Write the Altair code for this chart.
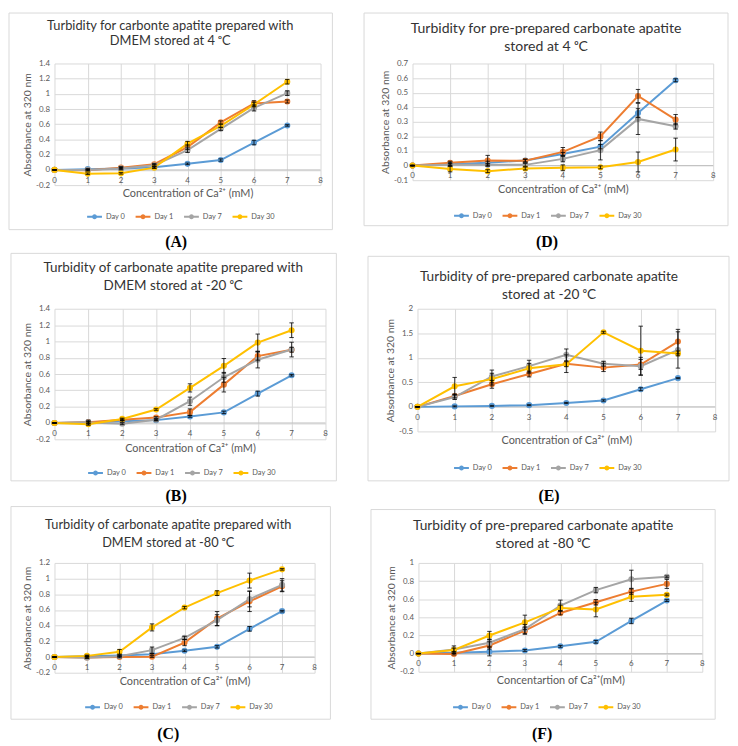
import altair as alt
import pandas as pd

# ---------------- data ----------------
conc = [0, 1, 2, 3, 4, 5, 6, 7]
days = ["Day 0", "Day 1", "Day 7", "Day 30"]
colors = ["#5B9BD5", "#ED7D31", "#A5A5A5", "#FFC000"]
x_ticks = [0, 1, 2, 3, 4, 5, 6, 7, 8]

day0 = [0, 0.01, 0.02, 0.035, 0.08, 0.13, 0.36, 0.585]
day0_err = [0.005, 0.01, 0.01, 0.01, 0.01, 0.015, 0.03, 0.01]
day0_err_f = [0.005, 0.01, 0.045, 0.01, 0.01, 0.015, 0.03, 0.01]

A_d1 = [0, -0.005, 0.03, 0.075, 0.30, 0.625, 0.875, 0.90]
A_d1_err = [0, 0.01, 0.01, 0.01, 0.03, 0.02, 0.035, 0.02]
A_d7 = [0, 0.0, 0.02, 0.06, 0.26, 0.54, 0.815, 1.01]
A_d7_err = [0, 0.01, 0.02, 0.01, 0.03, 0.02, 0.04, 0.03]
A_d30 = [0, -0.05, -0.045, 0.03, 0.345, 0.58, 0.86, 1.16]
A_d30_err = [0, 0.01, 0.01, 0.01, 0.03, 0.02, 0.03, 0.03]

D_d1 = [0, 0.02, 0.035, 0.033, 0.094, 0.2, 0.477, 0.315]
D_d1_err = [0, 0.01, 0.035, 0.01, 0.03, 0.03, 0.045, 0.035]
D_d7 = [0, 0.005, 0.005, 0.005, 0.046, 0.106, 0.32, 0.27]
D_d7_err = [0, 0.01, 0.01, 0.01, 0.02, 0.067, 0.107, 0.02]
D_d30 = [0, -0.023, -0.038, -0.02, -0.015, -0.012, 0.025, 0.11]
D_d30_err = [0, 0.02, 0.01, 0.01, 0.02, 0.01, 0.068, 0.078]

B_d1 = [0, 0.01, 0.04, 0.067, 0.133, 0.47, 0.82, 0.898]
B_d1_err = [0, 0.01, 0.01, 0.01, 0.04, 0.09, 0.05, 0.03]
B_d7 = [0, 0.005, -0.01, 0.04, 0.267, 0.56, 0.775, 0.9]
B_d7_err = [0, 0.03, 0.01, 0.01, 0.05, 0.06, 0.1, 0.09]
B_d30 = [0, -0.015, 0.05, 0.165, 0.43, 0.7, 0.985, 1.137]
B_d30_err = [0, 0.01, 0.01, 0.01, 0.05, 0.09, 0.105, 0.09]

E_d1 = [0, 0.223, 0.46, 0.67, 0.88, 0.8, 0.864, 1.33]
E_d1_err = [0, 0.04, 0.08, 0.06, 0.18, 0.08, 0.1, 0.25]
E_d7 = [0, 0.2, 0.62, 0.83, 1.06, 0.88, 0.83, 1.16]
E_d7_err = [0, 0.05, 0.13, 0.12, 0.12, 0.05, 0.18, 0.37]
E_d30 = [0, 0.42, 0.565, 0.787, 0.87, 1.52, 1.145, 1.09]
E_d30_err = [0, 0.18, 0.12, 0.1, 0.05, 0.02, 0.5, 0.05]

C_d1 = [0, -0.005, 0.0, 0.005, 0.185, 0.49, 0.71, 0.903]
C_d1_err = [0, 0.01, 0.01, 0.01, 0.04, 0.09, 0.13, 0.07]
C_d7 = [0, -0.01, 0.01, 0.088, 0.244, 0.47, 0.74, 0.92]
C_d7_err = [0, 0.01, 0.01, 0.04, 0.02, 0.07, 0.1, 0.08]
C_d30 = [0, 0.015, 0.067, 0.378, 0.63, 0.815, 0.975, 1.118]
C_d30_err = [0, 0.01, 0.03, 0.045, 0.015, 0.03, 0.095, 0.01]

F_d1 = [0, -0.005, 0.09, 0.253, 0.448, 0.566, 0.684, 0.769]
F_d1_err = [0, 0.01, 0.04, 0.04, 0.02, 0.03, 0.03, 0.05]
F_d7 = [0, 0.045, 0.12, 0.27, 0.53, 0.70, 0.82, 0.847]
F_d7_err = [0, 0.04, 0.04, 0.05, 0.06, 0.03, 0.1, 0.01]
F_d30 = [0, 0.04, 0.2, 0.344, 0.504, 0.486, 0.626, 0.648]
F_d30_err = [0, 0.02, 0.045, 0.08, 0.03, 0.08, 0.05, 0.01]

A_yticks = [-0.2, 0, 0.2, 0.4, 0.6, 0.8, 1, 1.2, 1.4]
B_yticks = [-0.2, 0, 0.2, 0.4, 0.6, 0.8, 1, 1.2, 1.4]
C_yticks = [-0.2, 0, 0.2, 0.4, 0.6, 0.8, 1, 1.2]
D_yticks = [-0.1, 0, 0.1, 0.2, 0.3, 0.4, 0.5, 0.6, 0.7]
E_yticks = [-0.5, 0, 0.5, 1, 1.5, 2]
F_yticks = [-0.2, 0, 0.2, 0.4, 0.6, 0.8, 1]

A_title = ["Turbidity for carbonte apatite prepared with", "DMEM stored at 4 \u1d52C"]
D_title = ["Turbidity for pre-prepared carbonate apatite", "stored at 4 \u1d52C"]
B_title = ["Turbidity of carbonate apatite prepared with", "DMEM stored at -20 \u1d52C"]
E_title = ["Turbidity of pre-prepared carbonate apatite", "stored at -20  \u1d52C"]
C_title = ["Turbidity of carbonate apatite prepared with", "DMEM stored at -80 \u1d52C"]
F_title = ["Turbidity of pre-prepared carbonate apatite", "stored at -80 \u1d52C"]

xtitle = "Concentration of Ca\u00b2\u207a (mM)"
xtitle_f = "Concentartion of Ca\u00b2\u207a(mM)"
ytitle = "Absorbance at 320 nm"

# ---------------- layout (absolute page pixels) ----------------
# plot tops are shared within a row (concat aligns plot origins per row)
LAYOUT = {
    "A": dict(plot=(54, 59, 323, 182), frame=(8, 8, 335, 227), label=(177, 240),
              tx=171, ty=(21, 36), ts=13, leg=(86, 213)),
    "D": dict(plot=(414, 59, 718, 177), frame=(365, 8, 733, 223), label=(550, 240),
              tx=549, ty=(24, 42), ts=14.2, leg=(455, 212)),
    "B": dict(plot=(52, 306, 326, 438), frame=(8, 250, 337, 480), label=(175, 495),
              tx=172, ty=(265, 283), ts=13.6, leg=(85, 471)),
    "E": dict(plot=(417, 306, 718, 430), frame=(367, 253, 732, 480), label=(550, 495),
              tx=550, ty=(274, 292), ts=13.8, leg=(453, 466)),
    "C": dict(plot=(57, 562, 320, 673), frame=(13, 505, 336, 720), label=(172, 735),
              tx=172, ty=(524, 542), ts=12.9, leg=(87, 707)),
    "F": dict(plot=(423, 562, 710, 672), frame=(375, 508, 723, 720), label=(548, 735),
              tx=549, ty=(525, 543), ts=13.9, leg=(457, 707)),
}

FONT = "Lato"
GRID = "#d9d9d9"
TXT = "#595959"

LEG_PATH = ("M-1,0L1,0M0.2,0A0.2,0.2,0,1,1,-0.2,0A0.2,0.2,0,1,1,0.2,0"
            "M0.1,0A0.1,0.1,0,1,1,-0.1,0A0.1,0.1,0,1,1,0.1,0")


def build_df(series):
    rows = []
    for i, (d, vals, errs) in enumerate(series):
        for c, v, e in zip(conc, vals, errs):
            rows.append(dict(conc=c, day=d, ord=i, value=v, lo=v - e, hi=v + e))
    return pd.DataFrame(rows)


def panel(key, series, title_lines, yticks, xt):
    lay = LAYOUT[key]
    L, T, R, B = lay["plot"]
    w, h = R - L, B - T
    df = build_df(series)
    ydom = [yticks[0], yticks[-1]]
    yscale = alt.Scale(domain=ydom, nice=False, zero=False)
    xscale = alt.Scale(domain=[0, 8], nice=False, zero=False)
    yaxis = alt.Axis(values=yticks, labelExpr="'' + datum.value", grid=True,
                     gridColor=GRID, domain=False, ticks=False, labelFontSize=8,
                     labelColor=TXT, labelFont=FONT, labelPadding=5,
                     title=ytitle, titleFont=FONT, titleFontSize=10.5,
                     titleColor=TXT, titleFontWeight="normal", titlePadding=3)
    xaxis = alt.Axis(values=x_ticks, labels=False, grid=True, gridColor=GRID,
                     domain=False, ticks=False, title=xt, titleFont=FONT,
                     titleFontSize=11, titleColor=TXT, titleFontWeight="normal",
                     titlePadding=3)
    X = alt.X("conc:Q", scale=xscale, axis=xaxis, title=xt)

    def Y(f):
        return alt.Y(f, scale=yscale, axis=yaxis, title=ytitle)

    base = alt.Chart(df)
    lx, ly = lay["leg"]
    legend = alt.Legend(orient="none", legendX=lx - L, legendY=ly - T - 7.5,
                        direction="horizontal", columns=4, title=None,
                        symbolType=LEG_PATH, symbolSize=225, symbolStrokeWidth=2,
                        labelFontSize=7.5, labelFont=FONT, labelColor=TXT,
                        labelOffset=3, columnPadding=6, padding=0)
    color = alt.Color("day:N", scale=alt.Scale(domain=days, range=colors), legend=legend)

    one = pd.DataFrame({"k": [0]})
    fL, fT, fR, fB = lay["frame"]
    frame = alt.Chart(one).mark_rect(fillOpacity=0, stroke=GRID, strokeWidth=1).encode(
        x=alt.value(fL - L), x2=alt.value(fR - L), y=alt.value(fT - T), y2=alt.value(fB - T))

    zero_df = pd.DataFrame({"x0": [0], "x1": [8], "y0": [0]})
    zero = alt.Chart(zero_df).mark_rule(color="#bfbfbf", strokeWidth=1).encode(
        x=alt.X("x0:Q", scale=xscale, axis=xaxis, title=xt), x2="x1:Q", y=Y("y0:Q"))

    tick_df = pd.DataFrame({"tick": x_ticks, "z": [0] * len(x_ticks)})
    xlabels = alt.Chart(tick_df).mark_text(dy=11, fontSize=8, color=TXT, font=FONT).encode(
        x=alt.X("tick:Q", scale=xscale, axis=xaxis, title=xt), y=Y("z:Q"), text="tick:Q")

    lines = base.mark_line(strokeWidth=2, point=alt.OverlayMarkDef(filled=True, size=38)).encode(
        x=X, y=Y("value:Q"), color=color, order="conc:Q")

    ebar = base.mark_rule(color="black", strokeWidth=0.8).encode(
        x=X, y=Y("lo:Q"), y2="hi:Q")
    cap_lo = base.mark_point(shape="M-1,0L1,0", size=20, color="black", strokeWidth=0.8,
                             opacity=1, filled=False).encode(x=X, y=Y("lo:Q"))
    cap_hi = base.mark_point(shape="M-1,0L1,0", size=20, color="black", strokeWidth=0.8,
                             opacity=1, filled=False).encode(x=X, y=Y("hi:Q"))

    ttl = []
    for line, ty in zip(title_lines, lay["ty"]):
        ttl.append(alt.Chart(one).mark_text(fontSize=lay["ts"], font=FONT, color="#333333",
                                            baseline="middle", align="center").encode(
            x=alt.value(lay["tx"] - L), y=alt.value(ty - T), text=alt.value(line)))
    lbx, lby = lay["label"]
    lab = alt.Chart(one).mark_text(fontSize=16, font="Liberation Serif", fontWeight="bold",
                                   color="black", baseline="middle", align="center").encode(
        x=alt.value(lbx - L), y=alt.value(lby - T), text=alt.value("(" + key + ")"))

    return alt.layer(frame, zero, xlabels, lines, ebar, cap_lo, cap_hi, *ttl, lab).properties(
        width=w, height=h)


pA = panel("A", [("Day 0", day0, day0_err), ("Day 1", A_d1, A_d1_err),
                 ("Day 7", A_d7, A_d7_err), ("Day 30", A_d30, A_d30_err)],
           A_title, A_yticks, xtitle)
pD = panel("D", [("Day 0", day0, day0_err), ("Day 1", D_d1, D_d1_err),
                 ("Day 7", D_d7, D_d7_err), ("Day 30", D_d30, D_d30_err)],
           D_title, D_yticks, xtitle)
pB = panel("B", [("Day 0", day0, day0_err), ("Day 1", B_d1, B_d1_err),
                 ("Day 7", B_d7, B_d7_err), ("Day 30", B_d30, B_d30_err)],
           B_title, B_yticks, xtitle)
pE = panel("E", [("Day 0", day0, day0_err), ("Day 1", E_d1, E_d1_err),
                 ("Day 7", E_d7, E_d7_err), ("Day 30", E_d30, E_d30_err)],
           E_title, E_yticks, xtitle)
pC = panel("C", [("Day 0", day0, day0_err), ("Day 1", C_d1, C_d1_err),
                 ("Day 7", C_d7, C_d7_err), ("Day 30", C_d30, C_d30_err)],
           C_title, C_yticks, xtitle)
pF = panel("F", [("Day 0", day0, day0_err_f), ("Day 1", F_d1, F_d1_err),
                 ("Day 7", F_d7, F_d7_err), ("Day 30", F_d30, F_d30_err)],
           F_title, F_yticks, xtitle_f)

row1 = alt.hconcat(pA, pD, spacing=30).resolve_scale(color="independent").resolve_legend(color="independent")
row2 = alt.hconcat(pB, pE, spacing=30).resolve_scale(color="independent").resolve_legend(color="independent")
row3 = alt.hconcat(pC, pF, spacing=39).resolve_scale(color="independent").resolve_legend(color="independent")

chart = alt.vconcat(row1, row2, row3, spacing=2).resolve_scale(
    color="independent").resolve_legend(color="independent").properties(
    padding=0, background="white").configure_view(stroke=None)

chart.save("out.html", embed_options={"renderer": "svg", "actions": False})
